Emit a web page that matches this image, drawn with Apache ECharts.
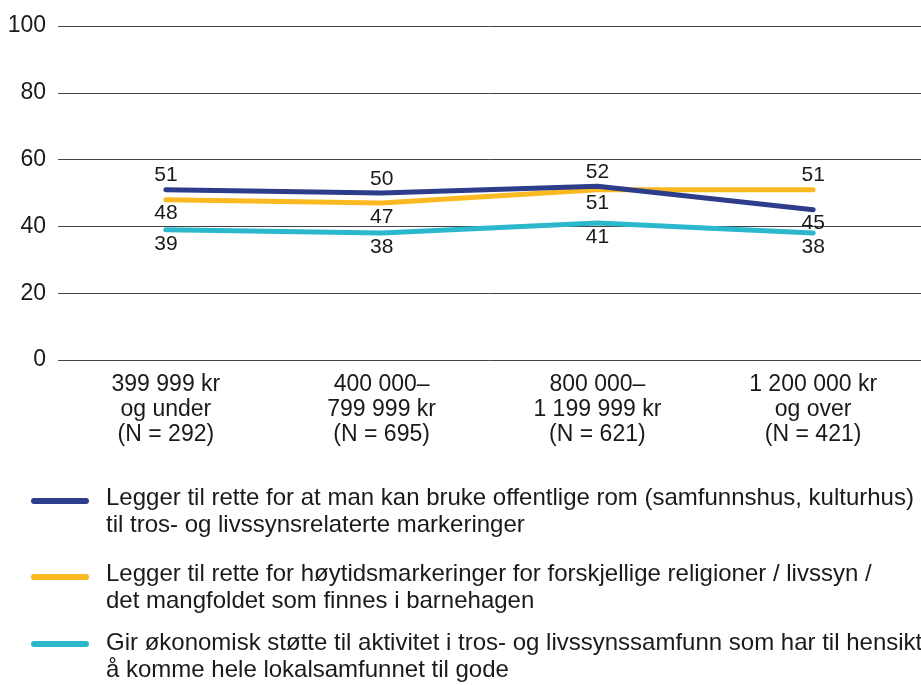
<!DOCTYPE html>
<html>
<head>
<meta charset="utf-8">
<script src="https://cdn.jsdelivr.net/npm/echarts@6/dist/echarts.min.js"></script>
<style>
  html, body { margin: 0; padding: 0; background: #fff; }
  #chart { width: 921px; height: 685px; }
</style>
</head>
<body>
<div id="chart"></div>
<script>
const categories = [
    '399 999 kr\nog under\n(N = 292)',
    '400 000–\n799 999 kr\n(N = 695)',
    '800 000–\n1 199 999 kr\n(N = 621)',
    '1 200 000 kr\nog over\n(N = 421)'
];
const seriesNames = [
    'Legger til rette for at man kan bruke offentlige rom (samfunnshus, kulturhus)\ntil tros- og livssynsrelaterte markeringer',
    'Legger til rette for høytidsmarkeringer for forskjellige religioner / livssyn /\ndet mangfoldet som finnes i barnehagen',
    'Gir økonomisk støtte til aktivitet i tros- og livssynssamfunn som har til hensikt\nå komme hele lokalsamfunnet til gode'
];
const rommet = [51, 50, 52, 45];
const hoytid = [48, 47, 51, 51];
const stotte = [39, 38, 41, 38];
const yTicks = [0, 20, 40, 60, 80, 100];

const colors = ['#2e3d8a', '#fbb921', '#2bb8cd'];
const labelPos = [
    ['top', 'top', 'top', 'bottom'],
    ['bottom', 'bottom', 'bottom', 'top'],
    ['bottom', 'bottom', 'bottom', 'bottom']
];
const font = '"Liberation Sans", Arial, sans-serif';

let chart = echarts.init(document.getElementById('chart'));

function makeSeries(idx, values) {
    return {
        name: seriesNames[idx],
        type: 'line',
        data: values.map(function (v, i) {
            return {value: v, label: {position: labelPos[idx][i]}};
        }),
        symbol: 'circle',
        symbolSize: 1,
        showSymbol: true,
        lineStyle: {color: colors[idx], width: 5, cap: 'round'},
        itemStyle: {color: colors[idx]},
        label: {
            show: true,
            fontSize: 21,
            fontFamily: font,
            color: '#1a1a1a',
            distance: 3
        },
        z: 3 - idx
    };
}

// custom legend, icon aligned with first text line
let iconY = [501, 577, 644];
let textTop = [485, 561, 630];
let legendGraphics = [];
seriesNames.forEach(function (name, i) {
    legendGraphics.push({
        type: 'line',
        shape: {x1: 34, y1: iconY[i], x2: 86, y2: iconY[i]},
        style: {stroke: colors[i], lineWidth: 6, lineCap: 'round'}
    });
    legendGraphics.push({
        type: 'text',
        left: 106,
        top: textTop[i],
        style: {
            text: name,
            font: '24px ' + font,
            fill: '#1a1a1a',
            lineHeight: 27
        }
    });
});

let option = {
    animation: false,
    textStyle: {fontFamily: font},
    grid: {left: 58, right: 0, top: 26, bottom: 325},
    xAxis: {
        type: 'category',
        data: categories,
        boundaryGap: true,
        axisLine: {show: false},
        axisTick: {show: false},
        axisLabel: {
            fontSize: 23,
            color: '#1a1a1a',
            lineHeight: 25,
            margin: 12,
            interval: 0
        }
    },
    yAxis: {
        type: 'value',
        min: yTicks[0],
        max: yTicks[yTicks.length - 1],
        interval: 20,
        axisLabel: {fontSize: 23, color: '#1a1a1a', margin: 12},
        axisLine: {show: false},
        axisTick: {show: false},
        splitLine: {lineStyle: {color: '#444', width: 1}}
    },
    series: [
        makeSeries(0, rommet),
        makeSeries(1, hoytid),
        makeSeries(2, stotte)
    ],
    graphic: legendGraphics
};
chart.setOption(option);
</script>
</body>
</html>
